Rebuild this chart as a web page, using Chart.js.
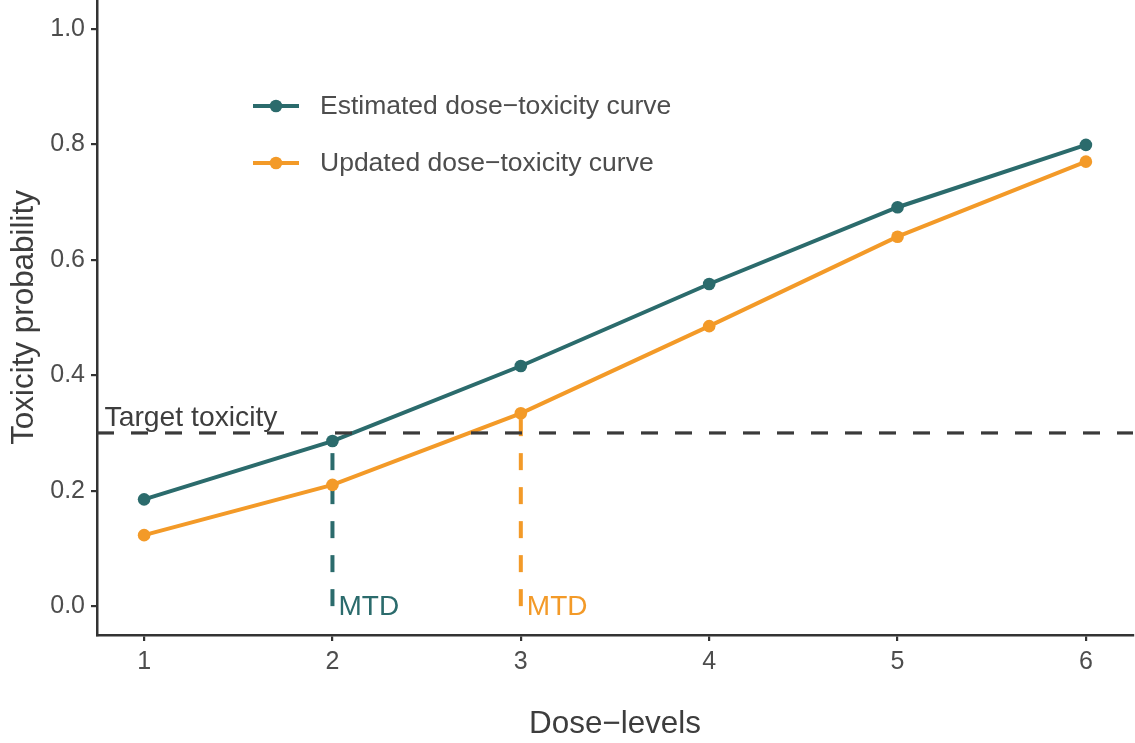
<!DOCTYPE html>
<html>
<head>
<meta charset="utf-8">
<script src="https://cdn.jsdelivr.net/npm/chart.js@4"></script>
<style>
  html, body { margin: 0; padding: 0; background: #ffffff; }
  #wrap { width: 1135px; height: 743px; position: relative; }
</style>
</head>
<body>
<div id="wrap"><canvas id="c" width="1135" height="743"></canvas></div>
<script>
// ---- data ----
const doseLevels = [1, 2, 3, 4, 5, 6];
const estimatedTox = [0.185, 0.286, 0.416, 0.558, 0.691, 0.799];
const updatedTox   = [0.123, 0.210, 0.334, 0.485, 0.640, 0.770];
const yTicks = [0.0, 0.2, 0.4, 0.6, 0.8, 1.0];
const targetTox = 0.3;
const mtdEstimated = 2;
const mtdUpdated = 3;
const seriesNames = ["Estimated dose\u2212toxicity curve", "Updated dose\u2212toxicity curve"];
const xTitle = "Dose\u2212levels";
const yTitle = "Toxicity probability";
const targetLabel = "Target toxicity";
const mtdLabel = "MTD";

const TEAL = "#2B6B6C";
const ORANGE = "#F39A28";
const AXIS = "#333333";
const TEXT = "#4D4D4D";
const FONT = "'Liberation Sans', Arial, Helvetica, sans-serif";

const xMin = 0.75, xMax = 6.25, yMin = -0.05, yMax = 1.05;

const pts = (ys) => doseLevels.map((d, i) => ({ x: d, y: ys[i] }));

const annotPlugin = {
  id: 'annot',
  afterDatasetsDraw(chart) {
    const ctx = chart.ctx;
    const xs = chart.scales.x, ys = chart.scales.y;
    ctx.save();
    // Target toxicity label
    ctx.font = "28.3px " + FONT;
    ctx.fillStyle = "#3D3D3D";
    ctx.textAlign = "left";
    ctx.textBaseline = "alphabetic";
    ctx.fillText(targetLabel, xs.getPixelForValue(0.79), ys.getPixelForValue(targetTox) - 7);
    // MTD labels
    ctx.font = "28px " + FONT;
    ctx.textBaseline = "middle";
    ctx.fillStyle = TEAL;
    ctx.fillText(mtdLabel, xs.getPixelForValue(mtdEstimated) + 6, ys.getPixelForValue(0) + 1);
    ctx.fillStyle = ORANGE;
    ctx.fillText(mtdLabel, xs.getPixelForValue(mtdUpdated) + 6, ys.getPixelForValue(0) + 1);
    // Legend
    const items = [
      { name: seriesNames[0], color: TEAL, y: 106 },
      { name: seriesNames[1], color: ORANGE, y: 163 }
    ];
    ctx.font = "26.5px " + FONT;
    ctx.textBaseline = "middle";
    items.forEach(it => {
      ctx.strokeStyle = it.color;
      ctx.lineWidth = 4;
      ctx.beginPath();
      ctx.moveTo(253, it.y);
      ctx.lineTo(299, it.y);
      ctx.stroke();
      ctx.fillStyle = it.color;
      ctx.beginPath();
      ctx.arc(276, it.y, 6.3, 0, Math.PI * 2);
      ctx.fill();
      ctx.fillStyle = TEXT;
      ctx.fillText(it.name, 320, it.y + 1);
    });
    // Axis titles
    ctx.fillStyle = "#3D3D3D";
    ctx.font = "31.4px " + FONT;
    ctx.textAlign = "center";
    ctx.textBaseline = "alphabetic";
    ctx.fillText(xTitle, (chart.chartArea.left + chart.chartArea.right) / 2, 733);
    ctx.translate(33, (chart.chartArea.top + chart.chartArea.bottom) / 2);
    ctx.rotate(-Math.PI / 2);
    ctx.fillText(yTitle, 0, 0);
    ctx.restore();
  }
};

new Chart(document.getElementById('c'), {
  type: 'scatter',
  data: {
    datasets: [
      {
        label: 'target',
        data: [{ x: xMin, y: targetTox }, { x: xMax, y: targetTox }],
        showLine: true, borderColor: "#3A3A3A", borderWidth: 3.2,
        borderDash: [17, 17], pointRadius: 0, order: 0
      },
      {
        label: seriesNames[0],
        data: pts(estimatedTox),
        showLine: true, borderColor: TEAL, backgroundColor: TEAL,
        borderWidth: 4, pointRadius: 6.3, pointBorderWidth: 0, order: 1
      },
      {
        label: seriesNames[1],
        data: pts(updatedTox),
        showLine: true, borderColor: ORANGE, backgroundColor: ORANGE,
        borderWidth: 4, pointRadius: 6.3, pointBorderWidth: 0, order: 2
      },
      {
        label: 'mtdEst',
        data: [{ x: mtdEstimated, y: 0 }, { x: mtdEstimated, y: estimatedTox[doseLevels.indexOf(mtdEstimated)] }],
        showLine: true, borderColor: TEAL, borderWidth: 4,
        borderDash: [17, 17], pointRadius: 0, order: 3
      },
      {
        label: 'mtdUpd',
        data: [{ x: mtdUpdated, y: 0 }, { x: mtdUpdated, y: updatedTox[doseLevels.indexOf(mtdUpdated)] }],
        showLine: true, borderColor: ORANGE, borderWidth: 4,
        borderDash: [17, 17], pointRadius: 0, order: 3
      }
    ]
  },
  options: {
    responsive: false,
    animation: false,
    devicePixelRatio: 1,
    layout: { autoPadding: false, padding: { left: 0, right: 2, top: 0, bottom: 0 } },
    plugins: { legend: { display: false }, tooltip: { enabled: false }, title: { display: false } },
    scales: {
      x: {
        type: 'linear', min: xMin, max: xMax,
        afterFit(s) { s.height = 108; s.paddingLeft = 0; s.paddingRight = 0; },
        afterBuildTicks(s) { s.ticks = doseLevels.map(v => ({ value: v })); },
        grid: { display: true, drawOnChartArea: false, drawTicks: true, tickLength: 6, color: AXIS, lineWidth: 2.2 },
        border: { display: true, color: AXIS, width: 2.5 },
        ticks: { color: TEXT, font: { family: FONT, size: 25 }, padding: 6, callback: v => String(v) }
      },
      y: {
        type: 'linear', min: yMin, max: yMax,
        afterFit(s) { s.width = 97; s.paddingTop = 0; s.paddingBottom = 0; },
        afterBuildTicks(s) { s.ticks = yTicks.map(v => ({ value: v })); },
        grid: { display: true, drawOnChartArea: false, drawTicks: true, tickLength: 6, color: AXIS, lineWidth: 2.2 },
        border: { display: true, color: AXIS, width: 2.5 },
        ticks: { color: TEXT, font: { family: FONT, size: 25 }, padding: 6, callback: v => Number(v).toFixed(1) }
      }
    }
  },
  plugins: [annotPlugin]
});
</script>
</body>
</html>
